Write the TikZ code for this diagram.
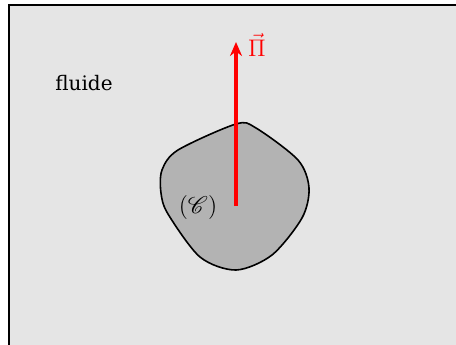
\documentclass[tikz,border=0pt]{standalone}
\usepackage{amsmath}
\usepackage{mathrsfs}
\usepackage{fontspec}
\setmainfont{DejaVu Serif}
\usepackage{tikz}
\usetikzlibrary{arrows.meta,calc}
\definecolor{Fluid}{HTML}{E5E5E5}
\definecolor{Body}{HTML}{B3B3B3}
\definecolor{Force}{HTML}{FF0000}

\begin{document}
\begin{tikzpicture}[x=0.5pt,y=-0.5pt,font=\normalsize,>=Stealth]
    \useasboundingbox (0,0) rectangle (456,344);
    \clip (0,0) rectangle (456,344);
    \draw[line width=1pt,fill=Fluid] (9,5) rectangle (470,360);
    \node (fluid) at (84,83) {fluide};
    \draw[line width=0.8pt,fill=Body] plot[smooth cycle,tension=0.5] coordinates {(236,124) (178,150) (162,170) (161,193) (168,214) (200,257) (236,270) (272,255) (302,218) (309,188) (298,160) (256,128)};
    \coordinate (G) at (236,206);
    \coordinate (tip) at (236,42);
    \node[font=\large] (body) at (198,207) {$(\mathscr{C})$};
    \draw[Force,line width=1.8pt,-{Stealth[length=7pt,width=6pt]}] (G) -- (tip);
    \node[Force,font=\large,anchor=west] (pi) at (241,45) {$\vec{\Pi}$};
  \end{tikzpicture}
\end{document}
